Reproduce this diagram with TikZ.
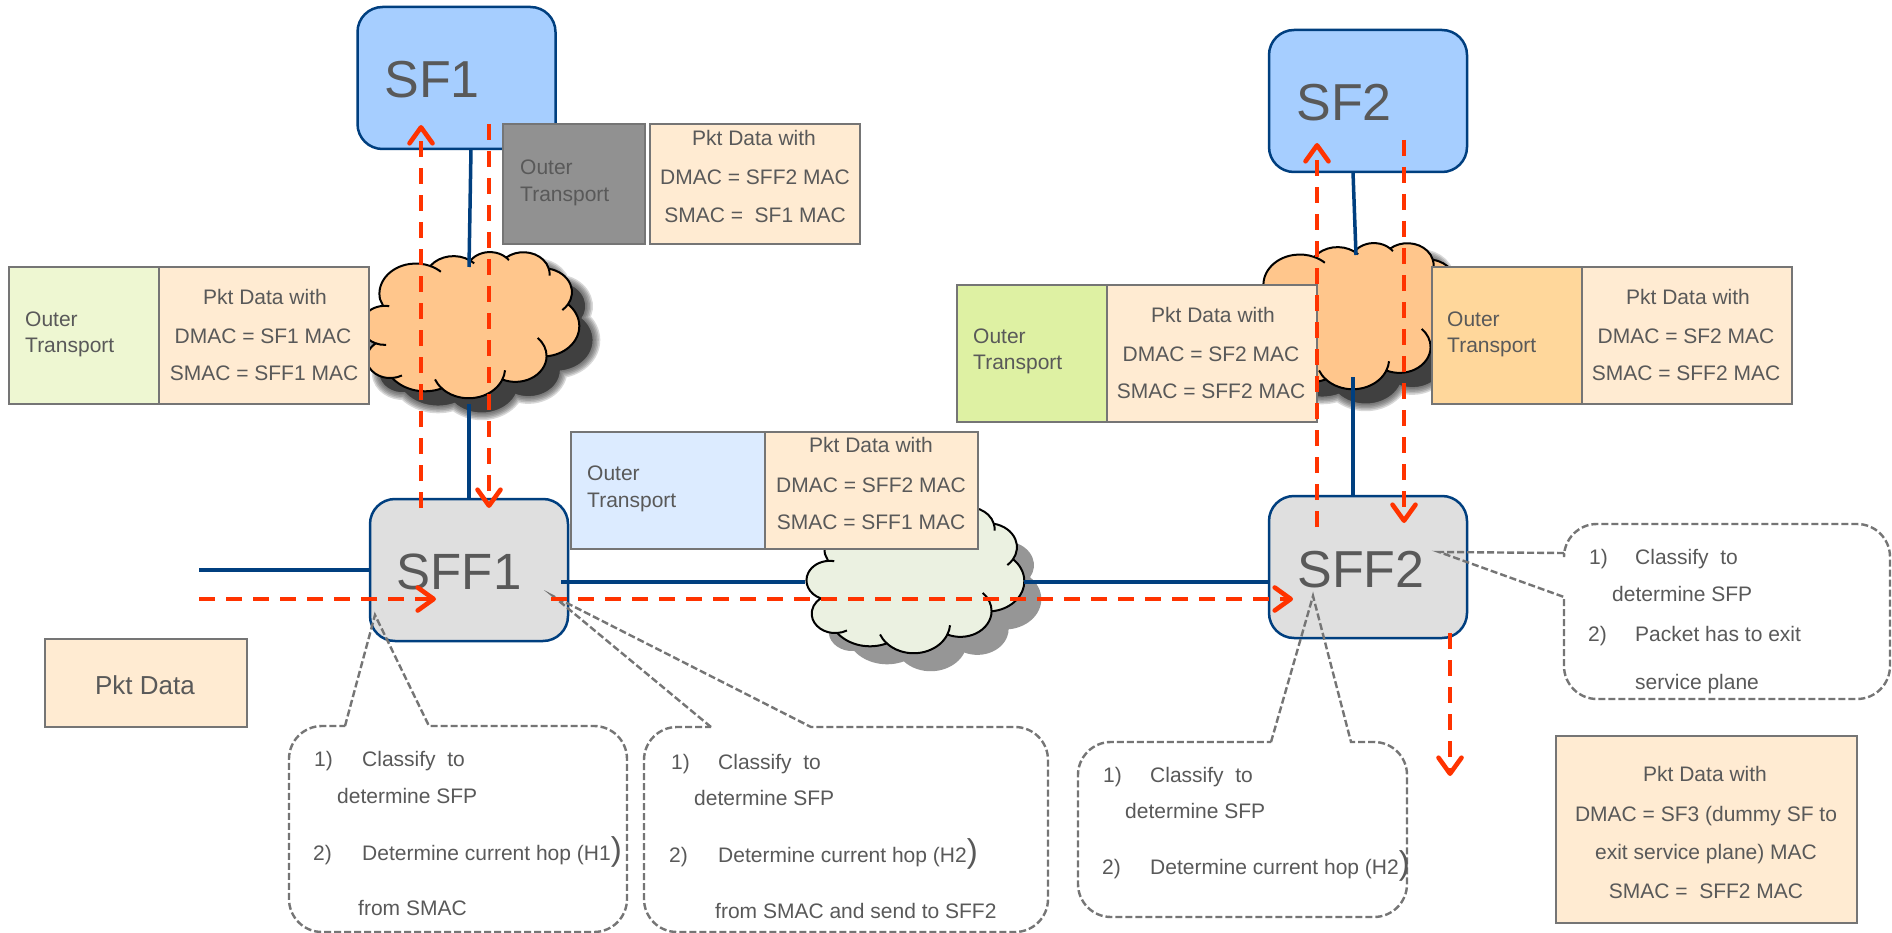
\documentclass[tikz,border=0pt]{standalone}
\usepackage{fontspec}
\setmainfont{Liberation Sans}
\usetikzlibrary{arrows.meta}
\definecolor{txtgray}{HTML}{595959}
\definecolor{boxgray}{HTML}{757575}
\definecolor{navy}{HTML}{003F7F}
\definecolor{redline}{HTML}{FF3300}
\definecolor{sfblue}{HTML}{A6CEFF}
\definecolor{sffgray}{HTML}{DFDFDF}
\definecolor{pktfill}{HTML}{FFEBD2}
\definecolor{cloudor}{HTML}{FFC68C}
\definecolor{cloudgr}{HTML}{EBF1E1}
\definecolor{lgreen}{HTML}{EEF7D2}
\definecolor{lblue}{HTML}{DCEBFF}
\definecolor{dgreen}{HTML}{DEF1A3}
\definecolor{lorange}{HTML}{FFD79B}
\definecolor{gouter}{HTML}{919191}
\definecolor{shadowdark}{HTML}{404040}
\definecolor{shadowlight}{HTML}{969696}
\def\mkarc#1#2#3#4#5{%
  \xdef#1{arc[start angle=#4,delta angle=#5,x radius=#2pt,y radius=#3pt]}%
}
\mkarc\cla{67.53}{91.90}{-190.4875}{123.7805}
\mkarc\clb{53.33}{72.67}{-144.1024}{89.9452}
\mkarc\clc{43.65}{59.45}{-145.8079}{99.7230}
\mkarc\cld{48.57}{65.95}{-130.9861}{117.2417}
\mkarc\cle{53.33}{72.73}{-78.7089}{109.0269}
\mkarc\clf{67.75}{92.20}{-46.2673}{130.2690}
\mkarc\clg{57.85}{78.67}{0.6250}{114.0333}
\mkarc\clh{67.52}{92.15}{22.4516}{115.1726}
\mkarc\cli{77.20}{105.43}{66.2426}{75.7110}
\mkarc\clj{43.60}{59.18}{-274.9421}{146.7356}
\mkarc\clk{43.45}{59.45}{-246.8285}{152.5189}
\mkarc\xa{67.53}{91.90}{-66.707}{20}
\mkarc\xb{53.33}{72.67}{-54.157}{10}
\mkarc\xc{43.65}{59.45}{-46.085}{10}
\mkarc\xd{48.57}{65.95}{-13.744}{18}
\mkarc\xe{53.33}{72.73}{30.318}{18}
\mkarc\xf{57.85}{78.67}{0.625}{-45}
\mkarc\xg{67.52}{92.15}{22.4516}{-18}
\mkarc\xh{67.52}{92.15}{137.624}{20}
\mkarc\xi{43.60}{59.18}{-274.9421}{-25}
\mkarc\xj{43.45}{59.45}{-246.8285}{-26}
\mkarc\xk{43.45}{59.45}{-94.31}{15}
\def\cloudoutline{(39pt,143.7pt) \cla coordinate (ca) \clb coordinate (cb) \clc coordinate (cc) \cld coordinate (cd) \cle coordinate (ce) \clf coordinate (cf) \clg coordinate (cg) \clh coordinate (ch) \cli coordinate (ci) \clj coordinate (cj) \clk coordinate (ck) -- cycle}
\tikzset{cloudscale/.style={xscale=233/432,yscale=-142/432}}
\newcommand\cloudshape[3]{% x0 y0 fill
  \begin{scope}[shift={(#1,#2)},cloudscale]
    \draw[fill=#3,draw=black,line width=2pt] \cloudoutline;
    \draw[draw=black,line width=2pt] (ca) \xa (cb) \xb (cc) \xc (cd) \xd (ce) \xe (cf) \xf (cg) \xg (ch) \xh (ci) \xi (cj) \xj (ck) \xk;
  \end{scope}}
\newcommand\softshadow[2]{% x0 y0
  \begin{scope}[shift={(#1,#2)},cloudscale]
    \foreach \w in {16,13,10,7,4,1}{\fill[draw=shadowdark,fill=shadowdark,line width=\w pt,opacity=0.2] \cloudoutline;}
    \fill[shadowdark] \cloudoutline;
  \end{scope}}
\newcommand\ctext[4]{\node[ctxt] (#1) at (#2,#3) {#4};}
\newcommand\ltext[4]{\node[ltxt] (#1) at (#2,#3) {#4};}
\newcommand\bigparen{{\fontsize{33}{33}\selectfont)}}
\tikzset{
  ctxt/.style={anchor=base,inner sep=0pt,text=txtgray,font=\fontsize{21}{25}\selectfont},
  ltxt/.style={anchor=base west,inner sep=0pt,text=txtgray,font=\fontsize{21}{25}\selectfont},
  roundbox/.style={draw=navy,line width=2.5pt,rounded corners=25pt,inner sep=0pt,minimum width=198pt,minimum height=142pt},
  big/.style={inner sep=0pt,text=txtgray,font=\fontsize{52}{60}\selectfont},
  plainbox/.style={draw=boxgray,line width=2.8pt,inner sep=0pt},
  pktbox/.style={plainbox,fill=pktfill},
  blueln/.style={draw=navy,line width=3.5pt},
  redln/.style={draw=redline,line width=3.6pt,dash pattern=on 16pt off 11pt},
  redarr/.style={redln,-{Straight Barb[length=16pt,width=23pt,round,line width=4.6pt]}},
  callout/.style={draw=boxgray,line width=2.4pt,dash pattern=on 7pt off 3pt},
}
\begin{document}
\begin{tikzpicture}[x=1pt,y=-1pt]
\useasboundingbox (0,0) rectangle (1892,933);
\fill[white] (0,0) rectangle (1892,933);

% clouds
\softshadow{372}{266}
\cloudshape{359}{252}{cloudor}
\softshadow{1256}{257}
\cloudshape{1243}{243}{cloudor}
\begin{scope}[shift={(821,525)},cloudscale]
  \fill[fill=shadowlight] \cloudoutline;
\end{scope}
\cloudshape{804}{507}{cloudgr}

% coordinates on clouds and free line ends
\coordinate (c1top) at (469,267);
\coordinate (c1bot) at (469,404);
\coordinate (c2top) at (1356,255);
\coordinate (c2bot) at (1353,377);
\coordinate (c3left) at (805,582);
\coordinate (c3right) at (1024,582);
\coordinate (inblue) at (199,570);
\coordinate (sff1out) at (561,582);

% main nodes
\node[roundbox,fill=sfblue] (SF1) at (456.5,78) {};
\node[roundbox,fill=sfblue] (SF2) at (1368,101) {};
\node[big] (SF1t) at (432,80) {SF1};
\node[big] (SF2t) at (1344,103) {SF2};

% blue links
\draw[blueln] (471,149) -- (c1top);
\draw[blueln] (1353,172) -- (c2top);
\draw[blueln] (c1bot) -- (469,499);
\draw[blueln] (c2bot) -- (1353,499);
\draw[blueln] (inblue) -- (370,570);
\draw[blueln] (c3right) -- (1269,582);

\node[roundbox,fill=sffgray] (SFF1) at (469,570) {};
\node[roundbox,fill=sffgray] (SFF2) at (1368,567) {};
\node[big,font=\fontsize{51}{60}\selectfont] (SFF1t) at (459,572) {SFF1};
\node[big] (SFF2t) at (1361,570) {SFF2};
\draw[blueln] (sff1out) -- (c3left);

% packet groups
\node[plainbox,fill=gouter,minimum width=142pt,minimum height=120pt] (gOuter) at (574,184) {};
\node[pktbox,minimum width=210pt,minimum height=120pt] (gPkt) at (755,184) {};
\ltext{gO1}{520}{174.5}{Outer}
\ltext{gO2}{520}{201.5}{Transport}
\ctext{gP1}{754}{145.5}{Pkt Data with}
\ctext{gP2}{755}{184.5}{DMAC = SFF2 MAC}
\ctext{gP3}{755}{222.5}{SMAC =\ \ SF1 MAC}

\node[plainbox,fill=lgreen,minimum width=150pt,minimum height=137pt] (lOuter) at (84,335.5) {};
\node[pktbox,minimum width=210pt,minimum height=137pt] (lPkt) at (264,335.5) {};
\ltext{lO1}{25}{326.5}{Outer}
\ltext{lO2}{25}{352.5}{Transport}
\ctext{lP1}{265}{304.5}{Pkt Data with}
\ctext{lP2}{263}{343.5}{DMAC = SF1 MAC}
\ctext{lP3}{264}{380.5}{SMAC = SFF1 MAC}

\node[plainbox,fill=lblue,minimum width=194pt,minimum height=117pt] (mOuter) at (668,490.5) {};
\node[pktbox,minimum width=213pt,minimum height=117pt] (mPkt) at (871.5,490.5) {};
\ltext{mO1}{587}{480.5}{Outer}
\ltext{mO2}{587}{507.5}{Transport}
\ctext{mP1}{871}{452.5}{Pkt Data with}
\ctext{mP2}{871}{492}{DMAC = SFF2 MAC}
\ctext{mP3}{871}{529.5}{SMAC = SFF1 MAC}

\node[plainbox,fill=dgreen,minimum width=150pt,minimum height=137pt] (aOuter) at (1032,353.5) {};
\node[pktbox,minimum width=210pt,minimum height=137pt] (aPkt) at (1212,353.5) {};
\ltext{aO1}{973}{343.5}{Outer}
\ltext{aO2}{973}{369.5}{Transport}
\ctext{aP1}{1213}{322.5}{Pkt Data with}
\ctext{aP2}{1211}{361.5}{DMAC = SF2 MAC}
\ctext{aP3}{1211}{398.5}{SMAC = SFF2 MAC}

\node[plainbox,fill=lorange,minimum width=150pt,minimum height=137pt] (bOuter) at (1507,335.5) {};
\node[pktbox,minimum width=210pt,minimum height=137pt] (bPkt) at (1687,335.5) {};
\ltext{bO1}{1447}{326.5}{Outer}
\ltext{bO2}{1447}{352.5}{Transport}
\ctext{bP1}{1688}{304.5}{Pkt Data with}
\ctext{bP2}{1686}{343.5}{DMAC = SF2 MAC}
\ctext{bP3}{1686}{380.5}{SMAC = SFF2 MAC}

\node[pktbox,minimum width=202pt,minimum height=88pt] (pktdata) at (146,683) {};
\node[inner sep=0pt,text=txtgray,font=\fontsize{26}{30}\selectfont] (pktdatat) at (145,685) {Pkt Data};

\node[pktbox,minimum width=301pt,minimum height=187pt] (sf3) at (1706.5,829.5) {};
\ctext{s1}{1705}{781.5}{Pkt Data with}
\ctext{s2}{1706}{821.5}{DMAC = SF3 (dummy SF to}
\ctext{s3}{1706}{859.5}{exit service plane) MAC}
\ctext{s4}{1706}{898.5}{SMAC =\ \ SFF2 MAC}

% callouts
\draw[callout] (345,726) -- (375,615) -- (429,726) [rounded corners=33pt] -- (627,726) -- (627,932) -- (289,932) -- (289,726) -- (345,726);
\draw[callout] (711,727) -- (553,596) -- (811,727) [rounded corners=33pt] -- (1048,727) -- (1048,932) -- (644,932) -- (644,727) -- (711,727);
\draw[callout] (1271,742) -- (1313,596) -- (1351,742) [rounded corners=33pt] -- (1407,742) -- (1407,917) -- (1078,917) -- (1078,742) -- (1271,742);
\draw[callout] (1564,553) -- (1439,552) -- (1564,597) [rounded corners=33pt] -- (1564,699) -- (1890,699) -- (1890,524) -- (1564,524) -- (1564,553);

\ltext{a1}{314}{766.5}{1)}
\ltext{a2}{362}{766.5}{Classify\ \ to}
\ltext{a3}{337}{803.5}{determine SFP}
\ltext{a4}{313}{860.5}{2)}
\ltext{a5}{362}{860.5}{Determine current hop (H1\bigparen}
\ltext{a6}{358}{915.5}{from SMAC}

\ltext{b1}{671}{769.5}{1)}
\ltext{b2}{718}{769.5}{Classify\ \ to}
\ltext{b3}{694}{805.5}{determine SFP}
\ltext{b4}{669}{862.5}{2)}
\ltext{b5}{718}{862.5}{Determine current hop (H2\bigparen}
\ltext{b6}{715}{918.5}{from SMAC and send to SFF2}

\ltext{c1}{1103}{782.5}{1)}
\ltext{c2}{1150}{782.5}{Classify\ \ to}
\ltext{c3}{1125}{818.5}{determine SFP}
\ltext{c4}{1102}{874.5}{2)}
\ltext{c5}{1150}{874.5}{Determine current hop (H2\bigparen}

\ltext{d1}{1589}{564.5}{1)}
\ltext{d2}{1635}{564.5}{Classify\ \ to}
\ltext{d3}{1612}{601.5}{determine SFP}
\ltext{d4}{1588}{641.5}{2)}
\ltext{d5}{1635}{641.5}{Packet has to exit}
\ltext{d6}{1635}{689.5}{service plane}

% red flows
\coordinate (r1s) at (421,508); \coordinate (r1e) at (421,125);
\coordinate (r2s) at (489,124); \coordinate (r2e) at (489,508);
\coordinate (r3s) at (199,599); \coordinate (r3e) at (436,599);
\coordinate (r4s) at (551,599); \coordinate (r4e) at (1293,599);
\coordinate (r5s) at (1317,527); \coordinate (r5e) at (1317,143);
\coordinate (r6s) at (1404,140); \coordinate (r6e) at (1404,523);
\coordinate (r7s) at (1450,633); \coordinate (r7e) at (1450,776);
\foreach \p in {1,...,7}{\draw[redarr] (r\p s) -- (r\p e);}
\end{tikzpicture}
\end{document}
